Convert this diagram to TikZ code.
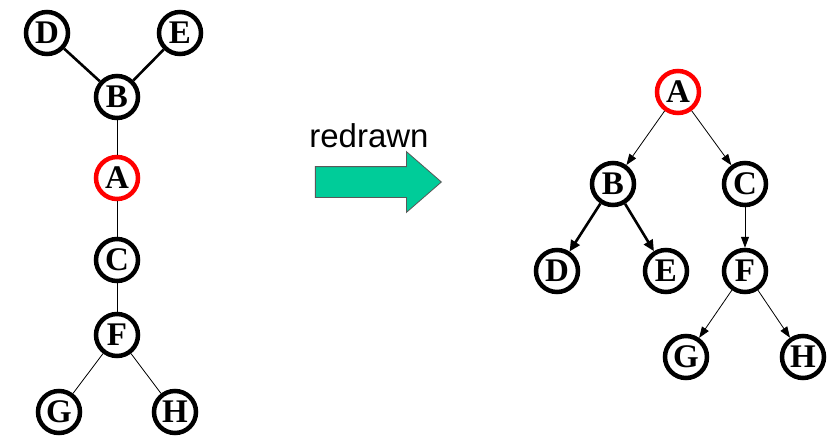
\documentclass[tikz,border=0pt]{standalone}
\usepackage{fontspec}
\setmainfont{Liberation Serif}
\newfontfamily\arialfont{Liberation Sans}
\usepackage{tikz}
\usetikzlibrary{shapes.arrows, arrows.meta, positioning}
\definecolor{verdeflecha}{RGB}{0,204,153}
\definecolor{rojoraiz}{RGB}{255,0,0}
\tikzset{
  nodo/.style={circle, draw=black, line width=4.5pt, fill=white, minimum size=42pt,
    inner sep=0pt, font=\fontsize{33}{33}\selectfont\bfseries},
  raiz/.style={nodo, draw=rojoraiz},
  arista/.style={line width=0.8pt, color=black},
  aristagruesa/.style={line width=2.6pt, color=black},
  flecha/.style={arista, -{Triangle[length=11pt, width=8pt]}},
  flechagruesa/.style={aristagruesa, -{Triangle[length=11pt, width=10pt]}},
  flechagorda/.style={single arrow, draw=black!65, line width=0.8pt, fill=verdeflecha,
    minimum height=126pt, inner xsep=0pt, inner ysep=15pt, minimum width=0pt,
    single arrow head extend=15pt, single arrow tip angle=82},
  etiq/.style={font=\arialfont\fontsize{33}{33}\selectfont, inner sep=0pt}
}
\begin{document}
\begin{tikzpicture}[x=1pt, y=-1pt, on grid]
  \useasboundingbox (0,0) rectangle (839,442);
  % arbol original
  \node[raiz] (la) at (117,178) {A};
  \node[nodo, above=81pt of la] (lb) {B};
  \node[nodo, above left=64pt and 70pt of lb] (ld) {D};
  \node[nodo, above right=64pt and 63pt of lb] (le) {E};
  \node[nodo, below=82pt of la] (lc) {C};
  \node[nodo, below=75pt of lc] (lf) {F};
  \node[nodo, below left=77pt and 58pt of lf] (lg) {G};
  \node[nodo, below right=77pt and 58pt of lf] (lh) {H};
  \draw[aristagruesa] (lb) -- (ld);
  \draw[aristagruesa] (lb) -- (le);
  \draw[arista] (lb) -- (la);
  \draw[arista] (la) -- (lc);
  \draw[arista] (lc) -- (lf);
  \draw[arista] (lf) -- (lg);
  \draw[arista] (lf) -- (lh);
  % flecha
  \node[flechagorda, anchor=tip] (redib) at (442,182) {};
  \node[etiq, anchor=base] (txt) at (369,147) {redrawn};
  % arbol redibujado
  \node[raiz] (ra) at (678,92) {A};
  \node[nodo, below left=92pt and 65pt of ra] (rb) {B};
  \node[nodo, below right=92pt and 67pt of ra] (rc) {C};
  \node[nodo, below left=87pt and 56pt of rb] (rd) {D};
  \node[nodo, below right=87pt and 53pt of rb] (re) {E};
  \node[nodo, below=87pt of rc] (rf) {F};
  \node[nodo, below left=86pt and 59pt of rf] (rg) {G};
  \node[nodo, below right=86pt and 58pt of rf] (rh) {H};
  \draw[flecha] (ra) -- (rb);
  \draw[flecha] (ra) -- (rc);
  \draw[flechagruesa] (rb) -- (rd);
  \draw[flechagruesa] (rb) -- (re);
  \draw[flecha] (rc) -- (rf);
  \draw[flecha] (rf) -- (rg);
  \draw[flecha] (rf) -- (rh);
\end{tikzpicture}
\end{document}
